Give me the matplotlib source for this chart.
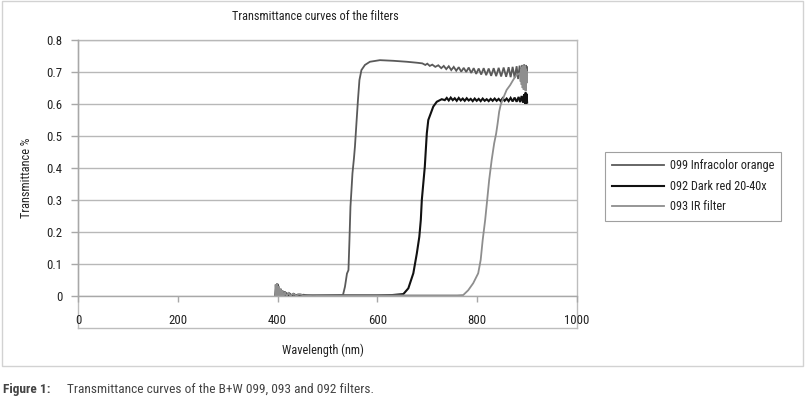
import matplotlib
matplotlib.use('Agg')
import matplotlib.pyplot as plt
from matplotlib.patches import Rectangle

plt.rcParams['font.family'] = ['Roboto Condensed', 'Archivo Narrow', 'DejaVu Sans']

# ---------------- data ----------------
title = 'Transmittance curves of the filters'
x_label = 'Wavelength (nm)'
y_label = 'Transmittance %'
caption_head = 'Figure 1:'
caption_text = 'Transmittance curves of the B+W 099, 093 and 092 filters.'
x_ticks = [0, 200, 400, 600, 800, 1000]
y_ticks = [0, 0.1, 0.2, 0.3, 0.4, 0.5, 0.6, 0.7, 0.8]
y_tick_labels = ['0', '0.1', '0.2', '0.3', '0.4', '0.5', '0.6', '0.7', '0.8']
series_names = ['099 Infracolor orange', '092 Dark red 20-40x', '093 IR filter']

wl_099 = [395, 397, 398, 400, 401, 403, 404, 406, 407, 409, 411, 413, 415, 418, 421, 424,
          428, 432, 436, 441, 446, 452, 460, 480, 500, 520, 531, 535, 539, 542, 544, 546,
          548, 550, 553, 555, 558, 561, 564, 568, 575, 585, 605, 632, 659, 679,
          690, 696, 700, 705, 710, 716, 722, 728, 733, 738, 743, 748, 753, 758, 763, 768,
          773, 778, 783, 788, 793, 798, 803, 808, 813, 818, 823, 828, 833, 838, 843, 848,
          853, 858, 863, 867, 871, 875, 879, 882, 885, 888, 890, 892, 894, 896, 897, 898,
          899, 900]
t_099 = [0.004, 0.030, -0.004, 0.038, 0.000, 0.028, -0.006, 0.022, 0.000, 0.018, -0.004, 0.014,
         0.000, 0.010, 0.001, 0.008, 0.002, 0.007, 0.002, 0.005, 0.002, 0.004, 0.002, 0.002,
         0.002, 0.002, 0.003, 0.029, 0.070, 0.081, 0.175, 0.279, 0.330, 0.383, 0.430, 0.467,
         0.540, 0.612, 0.675, 0.706, 0.722, 0.732, 0.737, 0.735, 0.732, 0.729,
         0.727, 0.722, 0.726, 0.719, 0.723, 0.716, 0.721, 0.712, 0.719, 0.709, 0.718, 0.706,
         0.716, 0.704, 0.715, 0.701, 0.713, 0.700, 0.714, 0.697, 0.712, 0.694, 0.711, 0.692,
         0.712, 0.690, 0.711, 0.688, 0.712, 0.687, 0.713, 0.686, 0.714, 0.685, 0.715, 0.684,
         0.716, 0.682, 0.718, 0.678, 0.720, 0.672, 0.722, 0.668, 0.724, 0.665, 0.722, 0.670,
         0.718, 0.690]

wl_092 = [396, 398, 399, 401, 402, 404, 405, 407, 409, 411, 413, 416, 419, 423, 427, 432,
          438, 445, 455, 480, 520, 560, 600, 630, 652, 662, 672, 679, 684, 687, 689, 692,
          695, 697, 699, 702, 707, 712, 719, 729,
          735, 739, 743, 747, 751, 755, 759, 763, 767, 771, 775, 779, 783, 787, 791, 795,
          799, 803, 807, 811, 815, 819, 823, 827, 831, 835, 839, 843, 847, 851, 855, 859,
          863, 867, 871, 875, 879, 883, 886, 889, 892, 894, 896, 897, 898, 899, 900]
t_092 = [0.002, 0.024, -0.006, 0.032, 0.002, 0.020, -0.004, 0.016, 0.000, 0.012, 0.001, 0.009,
         0.001, 0.006, 0.002, 0.005, 0.002, 0.004, 0.002, 0.002, 0.002, 0.002, 0.002, 0.003,
         0.006, 0.024, 0.071, 0.133, 0.185, 0.238, 0.300, 0.352, 0.404, 0.456, 0.508, 0.550,
         0.571, 0.592, 0.607, 0.615,
         0.612, 0.619, 0.611, 0.620, 0.612, 0.618, 0.610, 0.619, 0.611, 0.617, 0.610, 0.618,
         0.611, 0.616, 0.609, 0.617, 0.610, 0.616, 0.609, 0.617, 0.610, 0.615, 0.609, 0.616,
         0.610, 0.617, 0.610, 0.616, 0.609, 0.618, 0.610, 0.617, 0.609, 0.619, 0.608, 0.620,
         0.607, 0.622, 0.606, 0.625, 0.604, 0.630, 0.601, 0.636, 0.600, 0.632, 0.605]

wl_093 = [395, 396, 398, 399, 401, 402, 404, 406, 408, 410, 412, 415, 418, 422, 426, 431,
          437, 444, 452, 470, 520, 600, 700, 760, 772, 782, 792, 802, 807, 811, 816, 820,
          824, 829, 834, 838, 841, 844, 847, 852, 859, 866, 872, 879, 886, 887, 888, 889,
          890, 891, 892, 893, 894, 895, 896, 897, 898, 899, 900]
t_093 = [0.003, 0.036, -0.008, 0.040, -0.002, 0.030, -0.006, 0.024, -0.003, 0.018, -0.002, 0.013,
         0.000, 0.009, 0.001, 0.007, 0.002, 0.005, 0.002, 0.003, 0.002, 0.002, 0.002, 0.002,
         0.003, 0.018, 0.040, 0.071, 0.113, 0.175, 0.238, 0.300, 0.363, 0.425, 0.477, 0.508,
         0.540, 0.576, 0.597, 0.618, 0.644, 0.659, 0.675, 0.691, 0.696, 0.670, 0.710, 0.660,
         0.715, 0.650, 0.720, 0.645, 0.715, 0.660, 0.720, 0.640, 0.710, 0.665, 0.700]

colors = ['#5a5a5a', '#111111', '#8e8e8e']
widths = [1.3, 1.5, 1.3]

# ---------------- layout ----------------
W, H = 805, 397
fig = plt.figure(figsize=(W / 100, H / 100), dpi=100)
fig.patch.set_facecolor('white')
FS = 8.8
TXT = '#222222'


def fx(px):
    return px / W


def fy(py):
    return 1 - py / H


# outer chart frame
fig.patches.append(Rectangle((fx(2), fy(366)), fx(803) - fx(2), fy(1) - fy(366),
                             transform=fig.transFigure, fill=False,
                             edgecolor='#d2d2d2', lw=1.0))

# plot area border (extends below the x axis, around the tick labels)
border = fig.add_axes([fx(78), fy(328), fx(577) - fx(78), fy(40) - fy(328)])
border.set_xticks([])
border.set_yticks([])
for s in border.spines.values():
    s.set_color('#bdbdbd')
    s.set_linewidth(1.0)
border.patch.set_visible(False)
border.set_zorder(0)

ax = fig.add_axes([fx(78), fy(296), fx(577) - fx(78), fy(40) - fy(296)])
ax.patch.set_alpha(0)
ax.set_zorder(1)

for wl, t, name, c, lw in zip([wl_099, wl_092, wl_093], [t_099, t_092, t_093],
                              series_names, colors, widths):
    ax.plot(wl, t, color=c, lw=lw, label=name, solid_joinstyle='miter')

ax.set_xlim(0, 1000)
ax.set_ylim(0, 0.8)
ax.set_xticks(x_ticks)
ax.set_xticklabels([str(v) for v in x_ticks])
ax.set_yticks(y_ticks)
ax.set_yticklabels(y_tick_labels)
ax.tick_params(axis='x', direction='out', length=4, width=1, color='#a8a8a8',
               pad=9, labelsize=FS + 0.4, labelcolor=TXT)
ax.tick_params(axis='y', direction='out', length=5, width=1, color='#a8a8a8',
               pad=6, labelsize=FS + 0.4, labelcolor=TXT)
ax.yaxis.grid(True, color='#b8b8b8', lw=1.0)
ax.set_axisbelow(True)
for side in ['top', 'right']:
    ax.spines[side].set_visible(False)
ax.spines['left'].set_color('#a8a8a8')
ax.spines['bottom'].set_color('#a8a8a8')
ax.spines['left'].set_linewidth(1.0)
ax.spines['bottom'].set_linewidth(1.0)

leg = ax.legend(loc='upper left', bbox_to_anchor=(fx(605), fy(152)),
                bbox_transform=fig.transFigure, frameon=True, fancybox=False,
                edgecolor='#a0a0a0', fontsize=FS, handlelength=4.2,
                handletextpad=0.5, labelspacing=0.62, borderpad=0.6,
                borderaxespad=0, framealpha=1)
leg.get_frame().set_linewidth(0.8)
for txt in leg.get_texts():
    txt.set_color(TXT)

fig.text(fx(315), fy(17), title, ha='center', va='center', fontsize=FS, color=TXT)
fig.text(fx(27), fy(178), y_label, ha='center', va='center', rotation=90,
         fontsize=FS, color=TXT)
fig.text(fx(323), fy(350), x_label, ha='center', va='center', fontsize=FS, color=TXT)
fig.text(fx(3), fy(389), caption_head, ha='left', va='center', fontsize=9.6,
         fontweight='bold', color='#444444')
fig.text(fx(67), fy(389), caption_text, ha='left', va='center', fontsize=9.6, color='#444444')

fig.savefig('out.png', dpi=100, facecolor='white')
